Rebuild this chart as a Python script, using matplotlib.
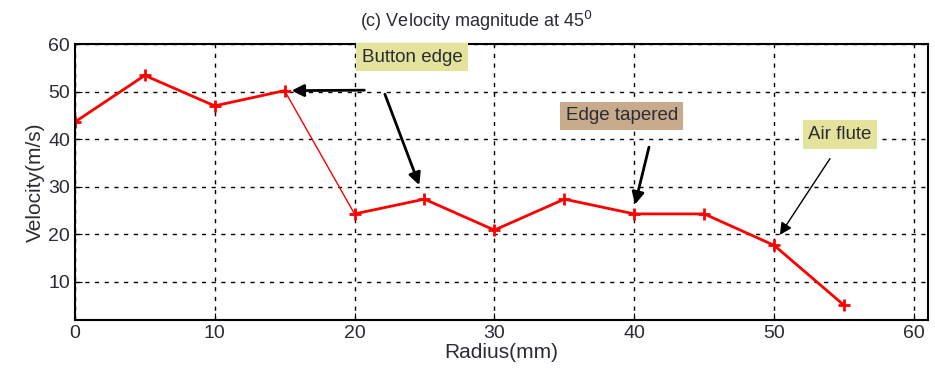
import matplotlib.pyplot as plt
import numpy as np

plt.rcParams['font.family'] = ['Liberation Sans', 'DejaVu Sans']
plt.rcParams['text.color'] = '#2b2b33'
plt.rcParams['axes.labelcolor'] = '#2b2b33'
plt.rcParams['xtick.labelcolor'] = '#2b2b33'
plt.rcParams['ytick.labelcolor'] = '#2b2b33'

radius = [0, 5, 10, 15, 20, 25, 30, 35, 40, 45, 50, 55]
velocity = [43.6, 53.4, 47.0, 50.2, 24.3, 27.4, 20.9, 27.4, 24.3, 24.3, 17.7, 5.1]
xticks = [0, 10, 20, 30, 40, 50, 60]
yticks = [10, 20, 30, 40, 50, 60]

fig = plt.figure(figsize=(9.35, 3.81), dpi=100)
ax = fig.add_axes([0.080, 0.16, 0.9125, 0.7245])

r = np.array(radius)
v = np.array(velocity)
# the drop from 15 to 20 mm is drawn thin in the original
ax.plot(r[:4], v[:4], color='red', lw=2, marker='+', ms=9, mew=2)
ax.plot(r[3:5], v[3:5], color='red', lw=1)
ax.plot(r[4:], v[4:], color='red', lw=2, marker='+', ms=9, mew=2)

ax.set_xlim(0, 61)
ax.set_ylim(2, 60)
ax.set_xticks(xticks)
ax.set_yticks(yticks)
ax.tick_params(direction='in', labelsize=14, length=5)
ax.grid(True, color='black', linestyle=(0, (3, 4)), lw=1)
for s in ax.spines.values():
    s.set_linewidth(1.5)

ax.set_title('(c) Velocity magnitude at 45$^0$', fontsize=13, pad=12, x=0.47)
ax.set_xlabel('Radius(mm)', fontsize=15, labelpad=1)
ax.set_ylabel('Velocity(m/s)', fontsize=15, labelpad=2)

yellow = dict(boxstyle='square,pad=0.3', fc='#E3E39C', ec='none')
tan = dict(boxstyle='square,pad=0.3', fc='#C8AA8C', ec='none')
arrow = dict(arrowstyle='-|>', color='black', lw=2, mutation_scale=18)
arrow_thin = dict(arrowstyle='-|>', color='black', lw=1, mutation_scale=18)

ax.text(20.5, 57.2, 'Button edge', fontsize=13.5, ha='left', va='center', bbox=yellow)
ax.annotate('', xy=(15.3, 50.2), xytext=(20.9, 50.3), arrowprops=arrow)
ax.annotate('', xy=(24.7, 29.8), xytext=(22.1, 50.0), arrowprops=arrow)

ax.text(39.1, 44.9, 'Edge tapered', fontsize=13.5, ha='center', va='center', bbox=tan)
ax.annotate('', xy=(40.0, 25.7), xytext=(41.1, 38.9), arrowprops=arrow)

ax.text(54.7, 41.0, 'Air flute', fontsize=13.5, ha='center', va='center', bbox=yellow)
ax.annotate('', xy=(50.3, 19.4), xytext=(54.1, 36.4), arrowprops=arrow_thin)

fig.savefig('out.png', dpi=100)
